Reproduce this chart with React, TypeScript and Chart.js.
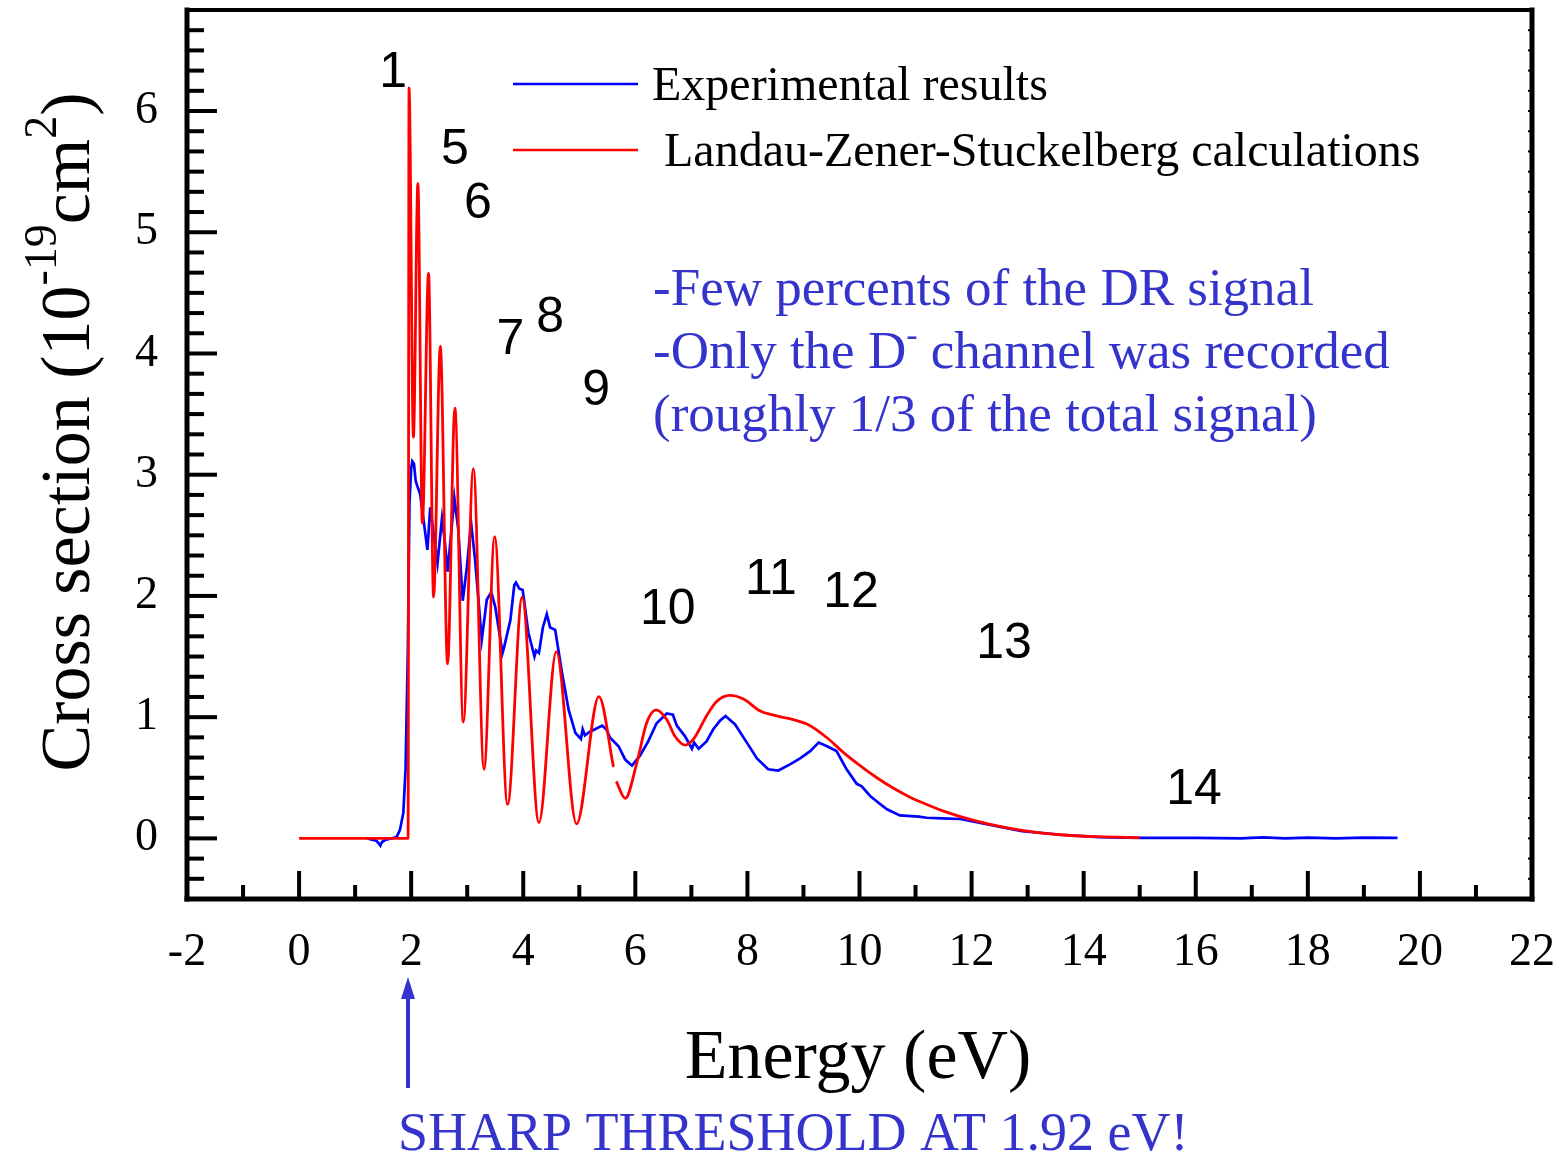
import React, { useEffect, useRef } from "react";
import { Chart, registerables } from "chart.js";

Chart.register(...registerables);

// ---------------- data ----------------
const expEnergy = [
  1.22, 1.30, 1.38, 1.42, 1.45, 1.48, 1.55, 1.65, 1.74, 1.80, 1.86, 1.90, 1.94, 1.97, 2.00, 2.02, 2.05, 2.08,
  2.10, 2.16, 2.22, 2.29, 2.34, 2.40, 2.47, 2.55, 2.60, 2.65, 2.72, 2.77, 2.84, 2.92, 2.99, 3.07, 3.14, 3.26,
  3.35, 3.43, 3.50, 3.63, 3.66, 3.77, 3.84, 3.87, 3.93, 3.99, 4.09, 4.20, 4.23, 4.28, 4.35, 4.42, 4.48, 4.57,
  4.69, 4.81, 4.93, 5.03, 5.06, 5.10, 5.19, 5.28, 5.41, 5.48, 5.55, 5.70, 5.82, 5.94, 6.08, 6.23, 6.38, 6.56,
  6.67, 6.74, 6.89, 7.01, 7.05, 7.13, 7.27, 7.39, 7.51, 7.61, 7.78, 7.99, 8.17, 8.37, 8.55, 8.76, 8.94, 9.12,
  9.27, 9.42, 9.59, 9.77, 9.95, 10.04, 10.19, 10.35, 10.49, 10.72, 11.06, 11.20, 11.47, 11.80, 12.29, 12.90,
  13.59, 14.27, 15.0, 16.0, 16.8, 17.2, 17.6, 18.0, 18.5, 19.0, 19.6,
];
const expSigma = [
  0.00, -0.01, -0.02, -0.04, -0.06, -0.03, -0.01, 0.00, 0.01, 0.07, 0.21, 0.57, 1.53, 2.77, 3.05, 3.11, 3.09, 2.95,
  2.92, 2.84, 2.63, 2.38, 2.73, 2.52, 2.27, 2.64, 2.45, 2.20, 2.55, 2.81, 2.55, 1.96, 2.22, 2.60, 2.30, 1.64,
  1.97, 2.03, 1.91, 1.53, 1.58, 1.80, 2.09, 2.11, 2.06, 2.05, 1.70, 1.50, 1.55, 1.53, 1.74, 1.85, 1.74, 1.72,
  1.37, 1.06, 0.87, 0.82, 0.90, 0.85, 0.88, 0.90, 0.93, 0.90, 0.83, 0.76, 0.65, 0.60, 0.68, 0.80, 0.95, 1.03,
  1.02, 0.93, 0.84, 0.74, 0.79, 0.74, 0.80, 0.90, 0.97, 1.01, 0.94, 0.79, 0.66, 0.57, 0.56, 0.61, 0.66, 0.72,
  0.79, 0.76, 0.72, 0.57, 0.45, 0.43, 0.35, 0.29, 0.24, 0.19, 0.18, 0.17, 0.165, 0.16, 0.115, 0.06,
  0.03, 0.01, 0.005, 0.005, 0.0, 0.008, 0.0, 0.006, 0.0, 0.006, 0.005,
];

const lzsEnergy = [
  0, 1.945, 1.962, 2.04, 2.12, 2.20, 2.31, 2.40, 2.52, 2.65, 2.78, 2.93, 3.11, 3.30, 3.49, 3.72, 3.98, 4.28,
  4.59, 4.95, 5.35, 5.61, 5.635, 5.66, 5.82, 6.03, 6.20, 6.37, 6.56, 6.71, 6.89, 7.04, 7.27, 7.45, 7.69, 7.93,
  8.23, 8.52, 8.82, 9.12, 9.42, 9.71, 10.01, 10.31, 10.60, 10.90, 11.20, 11.50, 11.80, 12.29, 12.90, 13.59,
  14.27, 15.0,
];
const lzsSigma = [
  0, 0, 6.19, 3.31, 5.40, 2.60, 4.66, 1.99, 4.06, 1.44, 3.55, 0.96, 3.05, 0.57, 2.49, 0.28, 1.99, 0.13,
  1.54, 0.12, 1.17, 0.59, null, 0.47, 0.33, 0.63, 0.95, 1.06, 0.98, 0.84, 0.77, 0.82, 1.01, 1.13, 1.18, 1.15,
  1.05, 1.01, 0.98, 0.93, 0.83, 0.71, 0.60, 0.50, 0.415, 0.34, 0.28, 0.225, 0.18, 0.12, 0.066, 0.03,
  0.014, 0.006,
];

const xTickValues = [-2, 0, 2, 4, 6, 8, 10, 12, 14, 16, 18, 20, 22];
const yTickValues = [0, 1, 2, 3, 4, 5, 6];
const seriesNames = ["Experimental results", " Landau-Zener-Stuckelberg calculations"];
const seriesColors = ["#0000FF", "#FF0000"];

// peak labels (text, energy, cross section)
const peakText = ["1", "5", "6", "7", "8", "9", "10", "11", "12", "13", "14"];
const peakE = [1.68, 2.78, 3.19, 3.77, 4.48, 5.30, 6.58, 8.42, 9.85, 12.58, 15.97];
const peakS = [6.31, 5.68, 5.23, 4.11, 4.29, 3.69, 1.88, 2.13, 2.02, 1.60, 0.40];

const noteColor = "#3434CC";

const SERIF = "'Liberation Serif', 'Times New Roman', serif";
const SANS = "'Liberation Sans', Arial, sans-serif";

function line(ctx: CanvasRenderingContext2D, x1: number, y1: number, x2: number, y2: number) {
  ctx.beginPath();
  ctx.moveTo(x1, y1);
  ctx.lineTo(x2, y2);
  ctx.stroke();
}

const decorPlugin = {
  id: "decor",
  afterDraw(chart: any) {
    const { ctx, chartArea: a, scales } = chart;
    const xs = scales.x;
    const ys = scales.y;
    ctx.save();

    // frame
    ctx.strokeStyle = "#000";
    ctx.lineCap = "square";
    ctx.lineWidth = 4;
    line(ctx, a.left, a.top, a.right, a.top);
    ctx.lineWidth = 5;
    line(ctx, a.left, a.top, a.left, a.bottom);
    line(ctx, a.left, a.bottom, a.right, a.bottom);
    line(ctx, a.right, a.top, a.right, a.bottom);

    // x ticks (inward)
    ctx.lineCap = "butt";
    ctx.lineWidth = 4;
    for (let v = -1; v <= 21; v += 1) {
      const px = xs.getPixelForValue(v);
      const len = v % 2 === 0 ? 28 : 14;
      line(ctx, px, a.bottom, px, a.bottom - len);
    }
    // y ticks (inward), minor every 1/6
    for (let k = -3; k <= 41; k++) {
      const py = ys.getPixelForValue(k / 6);
      if (py <= a.top + 2 || py >= a.bottom - 2) continue;
      const len = k % 6 === 0 ? 30 : 17;
      ctx.lineWidth = 4;
      line(ctx, a.left, py, a.left + len, py);
      ctx.lineWidth = 2;
      line(ctx, a.right, py, a.right - 4, py);
    }

    // legend
    ctx.textAlign = "left";
    ctx.textBaseline = "alphabetic";
    ctx.font = `48px ${SERIF}`;
    ctx.fillStyle = "#000";
    const legY = [84, 150];
    for (let i = 0; i < 2; i++) {
      ctx.strokeStyle = seriesColors[i];
      ctx.lineWidth = 2.5;
      line(ctx, 513, legY[i], 638, legY[i]);
      ctx.fillText(seriesNames[i], 652, legY[i] + 16);
    }

    // peak labels
    ctx.font = `50px ${SANS}`;
    ctx.textAlign = "center";
    ctx.textBaseline = "middle";
    ctx.fillStyle = "#000";
    for (let i = 0; i < peakText.length; i++) {
      ctx.fillText(peakText[i], xs.getPixelForValue(peakE[i]), ys.getPixelForValue(peakS[i]));
    }

    // blue notes
    ctx.fillStyle = noteColor;
    ctx.textAlign = "left";
    ctx.textBaseline = "alphabetic";
    ctx.font = `53px ${SERIF}`;
    ctx.fillText("-Few percents of the DR signal", 653, 305);
    let cx = 653;
    const p1 = "-Only the D";
    ctx.fillText(p1, cx, 368);
    cx += ctx.measureText(p1).width;
    ctx.font = `34px ${SERIF}`;
    ctx.fillText("-", cx, 346);
    cx += ctx.measureText("-").width;
    ctx.font = `53px ${SERIF}`;
    ctx.fillText(" channel was recorded", cx, 368);
    ctx.fillText("(roughly 1/3 of the total signal)", 653, 431);

    // arrow + threshold note
    ctx.strokeStyle = noteColor;
    ctx.lineWidth = 4;
    line(ctx, 408, 1088, 408, 995);
    ctx.beginPath();
    ctx.moveTo(408, 977);
    ctx.lineTo(401, 999);
    ctx.lineTo(415, 999);
    ctx.closePath();
    ctx.fill();
    ctx.font = `54px ${SERIF}`;
    ctx.fillText("SHARP THRESHOLD AT 1.92 eV!", 398, 1150);

    // x title
    ctx.fillStyle = "#000";
    ctx.font = `70px ${SERIF}`;
    ctx.textAlign = "center";
    ctx.fillText("Energy (eV)", 858, 1078);

    // y title with superscripts
    const parts: [string, number, number][] = [
      ["Cross section (10", 70, 0],
      ["-19", 46, -33],
      ["cm", 70, 0],
      ["2", 46, -33],
      [")", 70, 0],
    ];
    ctx.textAlign = "left";
    let total = 0;
    const widths: number[] = [];
    for (const [t, s] of parts) {
      ctx.font = `${s}px ${SERIF}`;
      const w = ctx.measureText(t).width;
      widths.push(w);
      total += w;
    }
    ctx.translate(89, 432);
    ctx.rotate(-Math.PI / 2);
    let u = -total / 2;
    parts.forEach(([t, s, dy], i) => {
      ctx.font = `${s}px ${SERIF}`;
      ctx.fillText(t, u, dy);
      u += widths[i];
    });

    ctx.restore();
  },
};

function zeroPad(s: any) {
  s.paddingLeft = 0;
  s.paddingRight = 0;
  s.paddingTop = 0;
  s.paddingBottom = 0;
}

export default function App() {
  const ref = useRef<HTMLCanvasElement | null>(null);

  useEffect(() => {
    if (!ref.current) return;
    const expData = expEnergy.map((x, i) => ({ x, y: expSigma[i] }));
    const lzsData = lzsEnergy.map((x, i) => ({ x, y: lzsSigma[i] }));
    const chart = new Chart(ref.current, {
      type: "line",
      data: {
        datasets: [
          {
            label: seriesNames[1],
            data: lzsData as any,
            borderColor: seriesColors[1],
            borderWidth: 2.8,
            pointRadius: 0,
            cubicInterpolationMode: "monotone",
            spanGaps: false,
            order: 0,
          },
          {
            label: seriesNames[0],
            data: expData as any,
            borderColor: seriesColors[0],
            borderWidth: 2.7,
            pointRadius: 0,
            tension: 0,
            order: 1,
          },
        ],
      },
      options: {
        animation: false,
        responsive: false,
        events: [],
        layout: { padding: { left: 0, right: 31, top: 10, bottom: 0 } },
        plugins: { legend: { display: false }, tooltip: { enabled: false } },
        scales: {
          x: {
            type: "linear",
            min: -2,
            max: 22,
            afterBuildTicks: (s: any) => {
              s.ticks = xTickValues.map((v) => ({ value: v }));
            },
            afterFit: (s: any) => {
              s.height = 257;
              zeroPad(s);
            },
            grid: { display: false, drawTicks: false },
            border: { display: false },
            ticks: {
              autoSkip: false,
              maxRotation: 0,
              padding: 26,
              color: "#000",
              font: { family: SERIF, size: 46 },
            },
          },
          y: {
            type: "linear",
            min: -0.5,
            max: 41 / 6,
            afterBuildTicks: (s: any) => {
              s.ticks = yTickValues.map((v) => ({ value: v }));
            },
            afterFit: (s: any) => {
              s.width = 187;
              zeroPad(s);
            },
            grid: { display: false, drawTicks: false },
            border: { display: false },
            ticks: {
              autoSkip: false,
              padding: 29,
              color: "#000",
              font: { family: SERIF, size: 46 },
            },
          },
        },
      },
      plugins: [decorPlugin],
    } as any);
    return () => chart.destroy();
  }, []);

  return (
    <div style={{ position: "absolute", left: 0, top: 0, width: 1563, height: 1156, background: "#fff" }}>
      <canvas ref={ref} width={1563} height={1156} style={{ display: "block" }} />
    </div>
  );
}
